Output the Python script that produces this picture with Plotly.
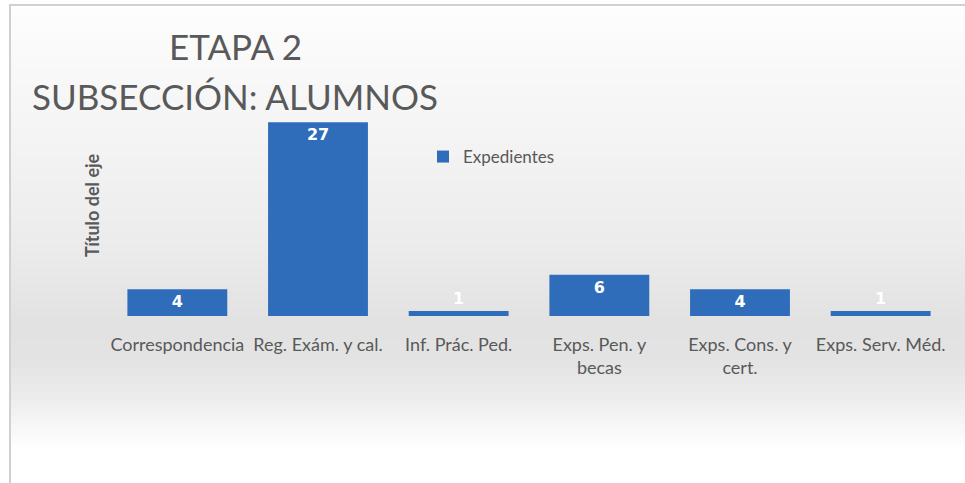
import plotly.graph_objects as go

# data
categories = [
    "Correspondencia",
    "Reg. Exám. y cal.",
    "Inf. Prác. Ped.",
    "Exps. Pen. y<br>becas",
    "Exps. Cons. y<br>cert.",
    "Exps. Serv. Méd.",
]
expedientes = [4, 27, 1, 6, 4, 1]
series_name = "Expedientes"
axis_title = "Título del eje"
title_lines = ["ETAPA 2", "SUBSECCIÓN: ALUMNOS"]

BAR_COLOR = "#2F6DBA"
TEXT_GREY = "#595959"
FONT = "Lato"

W, H = 965, 483
L, R, T, B = 107, 14, 115, 167
PW, PH = W - L - R, H - T - B


def px_x(x):
    return (x - L) / PW


def px_y(y):
    return (H - B - y) / PH


fig = go.Figure()
fig.add_trace(go.Bar(
    x=categories,
    y=expedientes,
    name=series_name,
    marker=dict(color=BAR_COLOR, line=dict(width=0)),
    width=0.71,
    texttemplate="<b>%{y}</b>",
    textposition=["inside", "inside", "outside", "inside", "inside", "outside"],
    insidetextanchor="end",
    cliponaxis=False,
    textfont=dict(color="white", size=16, family="DejaVu Sans"),
))

# soft vertical gradient behind the chart (pixel row -> grey level)
stops = [(0, 254), (60, 249), (150, 243), (250, 235), (320, 226),
         (360, 227), (400, 237), (430, 248), (450, 255), (483, 255)]
step = 4
shapes = []
for y in range(0, H, step):
    yc = y + step / 2
    for (y0, c0), (y1, c1) in zip(stops, stops[1:]):
        if y0 <= yc <= y1:
            c = round(c0 + (c1 - c0) * (yc - y0) / (y1 - y0))
            break
    shapes.append(dict(
        type="rect", xref="paper", yref="paper", layer="below",
        x0=px_x(10), x1=px_x(W + 5),
        y0=px_y(y + step + 0.5), y1=px_y(y),
        fillcolor=f"rgb({c},{c},{c})", line=dict(width=0),
    ))

# frame lines (top and left)
shapes.append(dict(type="line", xref="paper", yref="paper", x0=px_x(9), x1=px_x(W),
                   y0=px_y(5), y1=px_y(5), line=dict(color="#d0d0d0", width=2)))
shapes.append(dict(type="line", xref="paper", yref="paper", x0=px_x(10), x1=px_x(10),
                   y0=px_y(5), y1=px_y(H), line=dict(color="#d0d0d0", width=2)))

fig.update_layout(
    width=W,
    height=H,
    margin=dict(l=L, r=R, t=T, b=B, autoexpand=False),
    paper_bgcolor="white",
    plot_bgcolor="rgba(0,0,0,0)",
    font=dict(family=FONT, color=TEXT_GREY),
    shapes=shapes,
    showlegend=True,
    legend=dict(
        x=px_x(423), y=px_y(157), xanchor="left", yanchor="middle",
        bgcolor="rgba(0,0,0,0)",
        font=dict(size=17, color=TEXT_GREY, family=FONT),
        itemwidth=30,
    ),
    xaxis=dict(
        automargin=False,
        tickangle=0,
        tickfont=dict(size=18, color=TEXT_GREY, family=FONT),
        ticklabelstandoff=16,
        showline=False,
        ticks="",
        showgrid=False,
    ),
    yaxis=dict(
        automargin=False,
        range=[0.3, 28],
        showticklabels=False,
        showgrid=False,
        zeroline=False,
        showline=False,
    ),
    annotations=[
        dict(text=f"<b>{axis_title}</b>", xref="paper", yref="paper",
             x=px_x(92), y=px_y(205), xanchor="center", yanchor="middle",
             textangle=-90, showarrow=False,
             font=dict(size=18, color=TEXT_GREY, family=FONT)),
        dict(text=title_lines[0], xref="paper", yref="paper",
             x=px_x(235), y=px_y(46), xanchor="center", yanchor="middle",
             showarrow=False, font=dict(size=35, color=TEXT_GREY, family=FONT)),
        dict(text=title_lines[1], xref="paper", yref="paper",
             x=px_x(235), y=px_y(96), xanchor="center", yanchor="middle",
             showarrow=False, font=dict(size=35, color=TEXT_GREY, family=FONT)),
    ],
)

fig.write_html("out.html", config={"displayModeBar": False},
               post_script="document.body.style.margin='0';")
